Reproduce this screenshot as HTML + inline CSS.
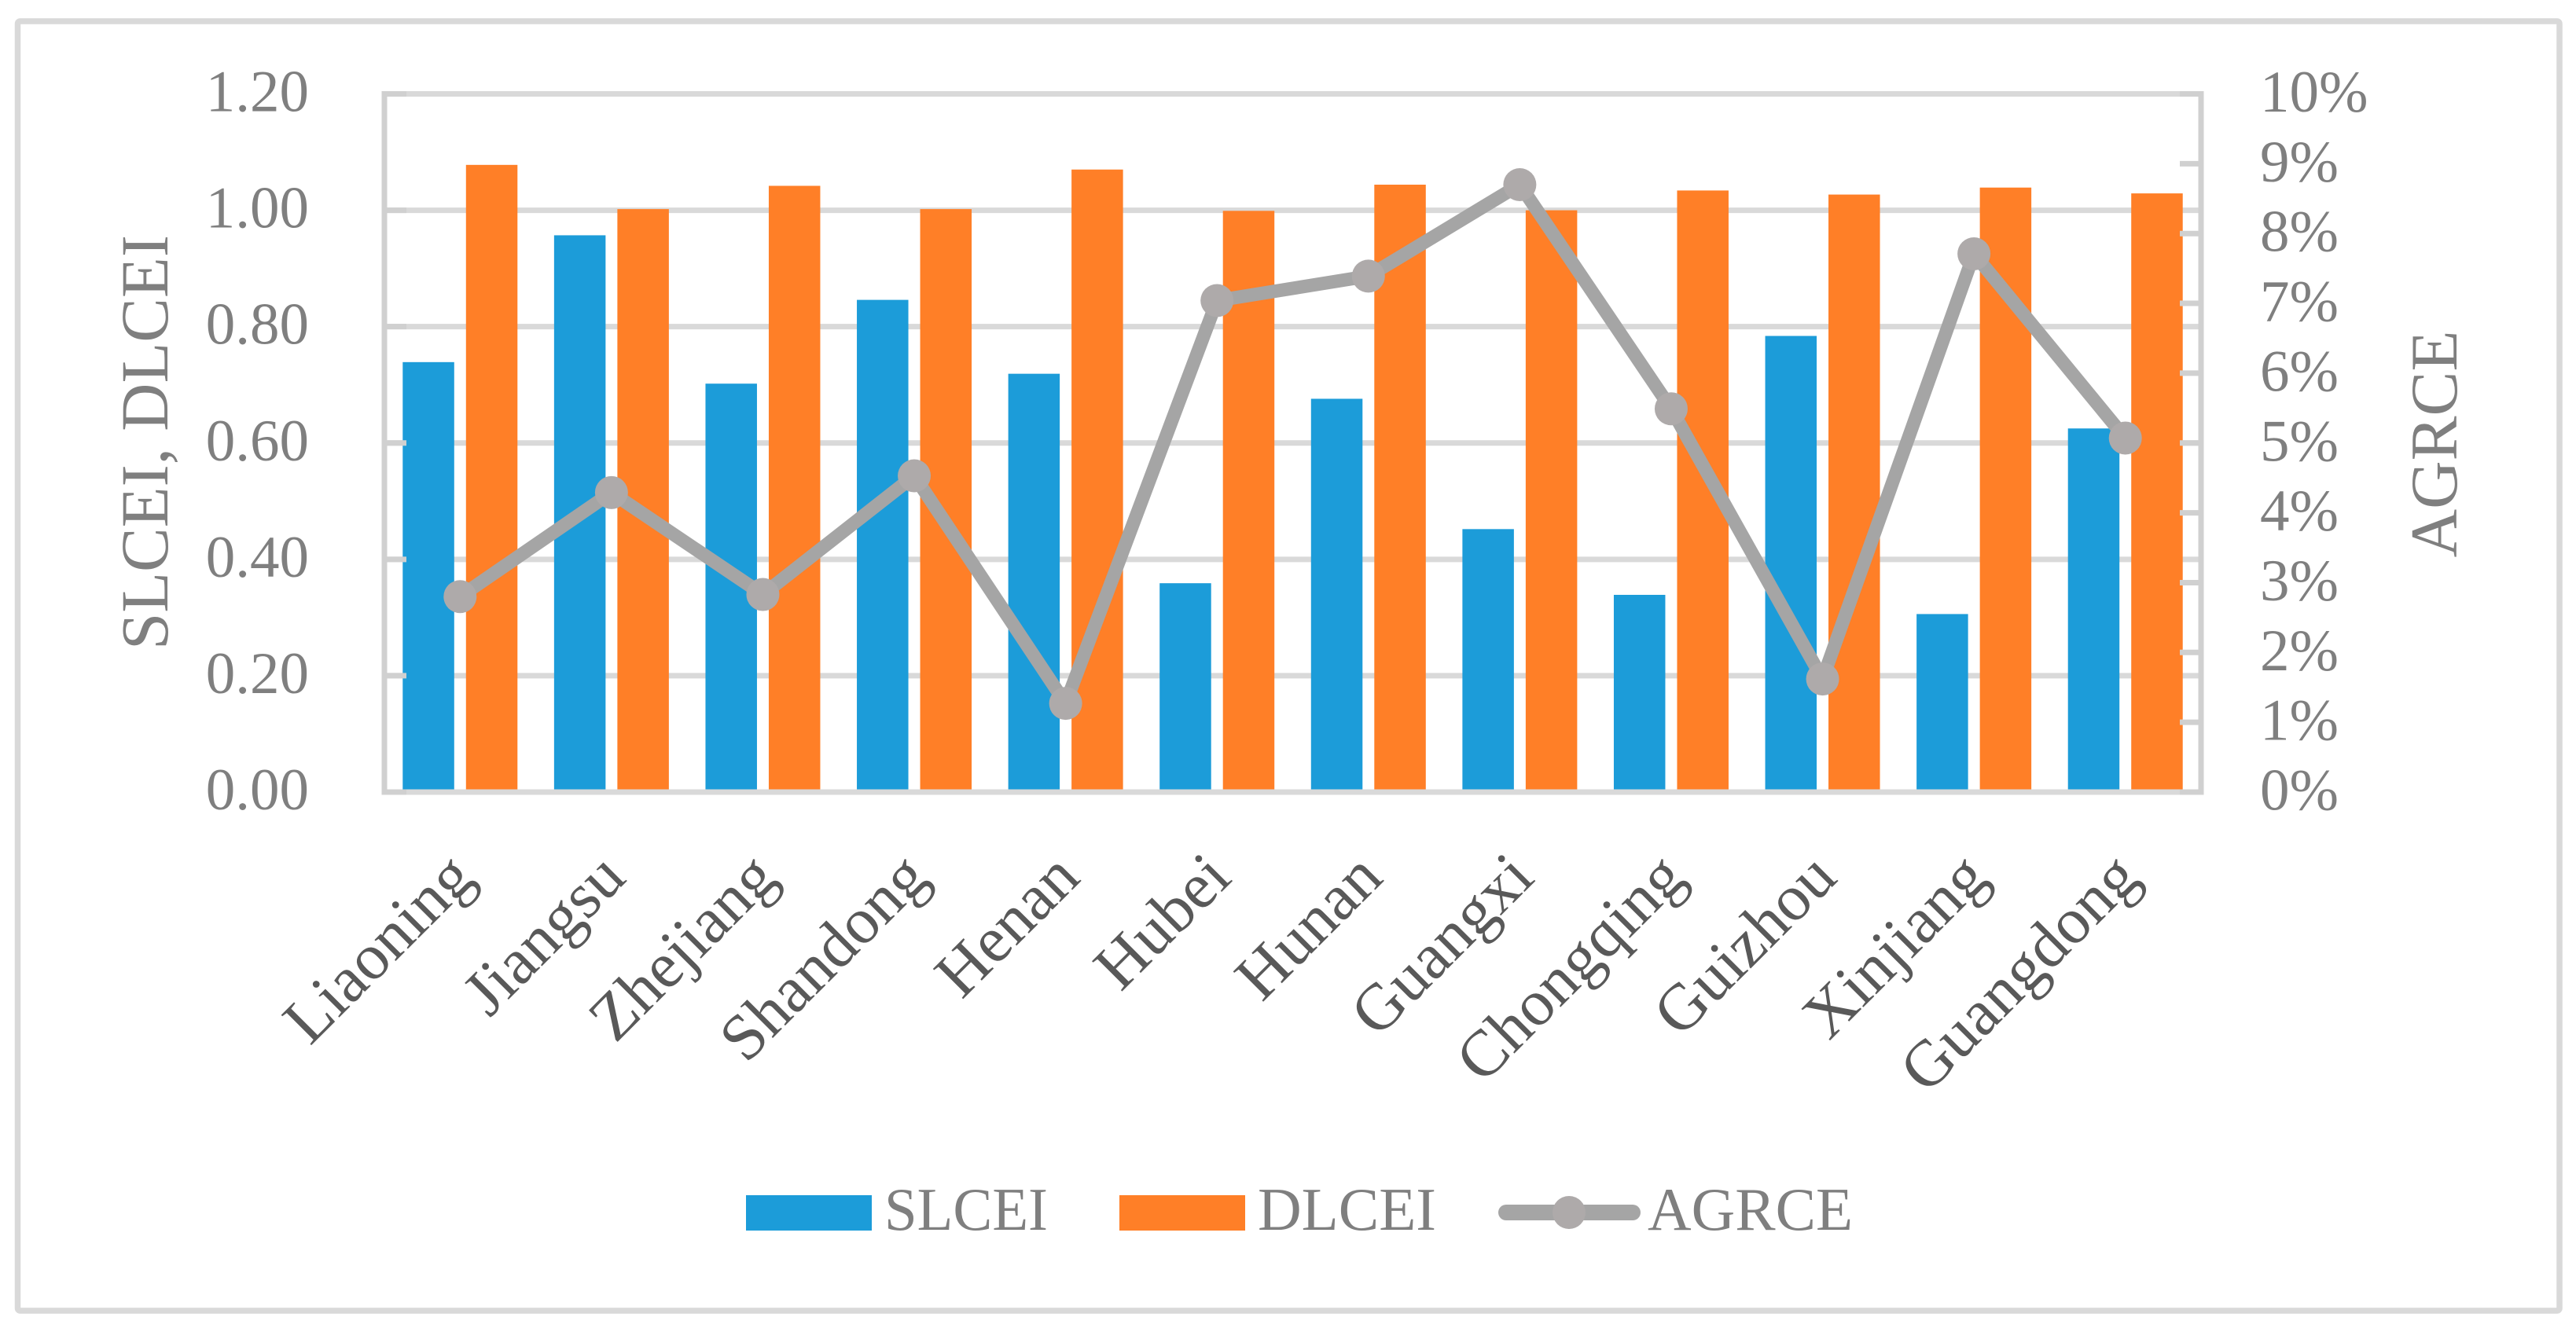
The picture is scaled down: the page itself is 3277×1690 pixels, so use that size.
<!DOCTYPE html>
<html>
<head>
<meta charset="utf-8">
<title>SLCEI, DLCEI and AGRCE by province</title>
<style>
html,body{margin:0;padding:0;background:#fff;}
svg{display:block;font-family:"Liberation Serif",serif;}
</style>
</head>
<body>
<svg id="chart" width="3277" height="1690" viewBox="0 0 3277 1690" xmlns="http://www.w3.org/2000/svg">
<rect x="0" y="0" width="3277" height="1690" fill="#ffffff"/>
<rect x="22.5" y="27" width="3233.5" height="1641" fill="none" stroke="#d9d9d9" stroke-width="7.5" rx="3"/>
<g id="grid"></g>
<g id="bars"></g>
<g id="axes"></g>
<g id="line"></g>
<g id="labels"></g>
<text transform="translate(213,563) rotate(-90)" text-anchor="middle" font-size="86" fill="#7f7f7f" textLength="528" lengthAdjust="spacingAndGlyphs">SLCEI, DLCEI</text>
<text transform="translate(3125,565) rotate(-90)" text-anchor="middle" font-size="85" fill="#7f7f7f" textLength="289" lengthAdjust="spacingAndGlyphs">AGRCE</text>
<g>
<rect x="949" y="1521" width="160" height="45" fill="#1c9cd9"/>
<text x="1125" y="1565" font-size="77" fill="#7f7f7f" textLength="208" lengthAdjust="spacingAndGlyphs">SLCEI</text>
<rect x="1424" y="1521" width="160" height="45" fill="#ff7f27"/>
<text x="1600" y="1565" font-size="77" fill="#7f7f7f" textLength="227" lengthAdjust="spacingAndGlyphs">DLCEI</text>
<line x1="1916" y1="1543" x2="2077" y2="1543" stroke="#a5a5a5" stroke-width="20" stroke-linecap="round"/>
<circle cx="1996" cy="1543" r="21" fill="#aeaaaa"/>
<text x="2096" y="1565" font-size="77" fill="#7f7f7f" textLength="261" lengthAdjust="spacingAndGlyphs">AGRCE</text>
</g>
</svg>
<script>
const categories = ["Liaoning","Jiangsu","Zhejiang","Shandong","Henan","Hubei","Hunan","Guangxi","Chongqing","Guizhou","Xinjiang","Guangdong"];
const slcei = [0.739,0.957,0.702,0.846,0.719,0.359,0.676,0.452,0.339,0.784,0.306,0.625];
const dlcei = [1.078,1.002,1.042,1.002,1.070,0.999,1.044,1.000,1.034,1.027,1.039,1.029];
const agrce = [2.80,4.29,2.83,4.53,1.27,7.04,7.39,8.70,5.49,1.62,7.71,5.07];
const leftTicks = [0,0.2,0.4,0.6,0.8,1.0,1.2];
const rightTicks = [0,1,2,3,4,5,6,7,8,9,10];

const NS = "http://www.w3.org/2000/svg";
const plotLeft = 489, plotRight = 2800, plotTop = 119.5, plotBottom = 1008;
const yLeft = v => plotBottom - (v / 1.2) * (plotBottom - plotTop);
const yRight = v => plotBottom - (v / 10) * (plotBottom - plotTop);
const band = (plotRight - plotLeft) / categories.length;
const xCenter = i => plotLeft + band * (i + 0.5);
const barW = 65.5, barGap = 15;

function make(tag, attrs, parent) {
  const el = document.createElementNS(NS, tag);
  for (const k in attrs) el.setAttribute(k, attrs[k]);
  document.getElementById(parent).appendChild(el);
  return el;
}

leftTicks.forEach(v => {
  const g = make("line", {x1: plotLeft, x2: plotRight, y1: yLeft(v), y2: yLeft(v), stroke: "#d9d9d9", "stroke-width": 7}, "grid");
  
  
});

categories.forEach((c, i) => {
  const a = make("rect", {x: xCenter(i) - barGap / 2 - barW, y: yLeft(slcei[i]), width: barW, height: plotBottom - yLeft(slcei[i]), fill: "#1c9cd9"}, "bars");
  
  
  const b = make("rect", {x: xCenter(i) + barGap / 2, y: yLeft(dlcei[i]), width: barW, height: plotBottom - yLeft(dlcei[i]), fill: "#ff7f27"}, "bars");
  
  
});

const axisBottom = make("line", {x1: plotLeft - 3.5, x2: plotRight + 3.5, y1: plotBottom, y2: plotBottom, stroke: "#d9d9d9", "stroke-width": 7}, "axes");


const axisLeft = make("line", {x1: plotLeft, x2: plotLeft, y1: plotTop - 3.5, y2: plotBottom + 3.5, stroke: "#d0d0d0", "stroke-width": 7}, "axes");


const axisRight = make("line", {x1: plotRight, x2: plotRight, y1: plotTop - 3.5, y2: plotBottom + 3.5, stroke: "#d0d0d0", "stroke-width": 7}, "axes");



leftTicks.forEach(v => {
  const t = make("line", {x1: plotLeft, x2: plotLeft + 28, y1: yLeft(v), y2: yLeft(v), stroke: "#d0d0d0", "stroke-width": 7}, "axes");
  
  
  const l = make("text", {x: 393, y: yLeft(v) + 22, "text-anchor": "end", "font-size": 75, fill: "#7f7f7f"}, "labels");
  
  
  l.textContent = v.toFixed(2);
});

rightTicks.forEach(v => {
  const t = make("line", {x1: plotRight - 27, x2: plotRight, y1: yRight(v), y2: yRight(v), stroke: "#d0d0d0", "stroke-width": 7}, "axes");
  
  
  const l = make("text", {x: 2875, y: yRight(v) + 22.5, "font-size": 75, fill: "#7f7f7f"}, "labels");
  
  
  l.textContent = v + "%";
});

categories.forEach((c, i) => {
  const bx = xCenter(i) + 21, by = 1120;
  const l = make("text", {transform: "translate(" + bx + "," + by + ") rotate(-45)", "text-anchor": "end", "font-size": 83, fill: "#595959"}, "labels");
  
  
  l.textContent = c;
});

const path = make("polyline", {points: agrce.map((v, i) => xCenter(i) + "," + yRight(v)).join(" "), fill: "none", stroke: "#a5a5a5", "stroke-width": 17, "stroke-linejoin": "round", "stroke-linecap": "round"}, "line");


agrce.forEach((v, i) => {
  const m = make("circle", {cx: xCenter(i), cy: yRight(v), r: 21, fill: "#aeaaaa"}, "line");
  
  
});
</script>
</body>
</html>
